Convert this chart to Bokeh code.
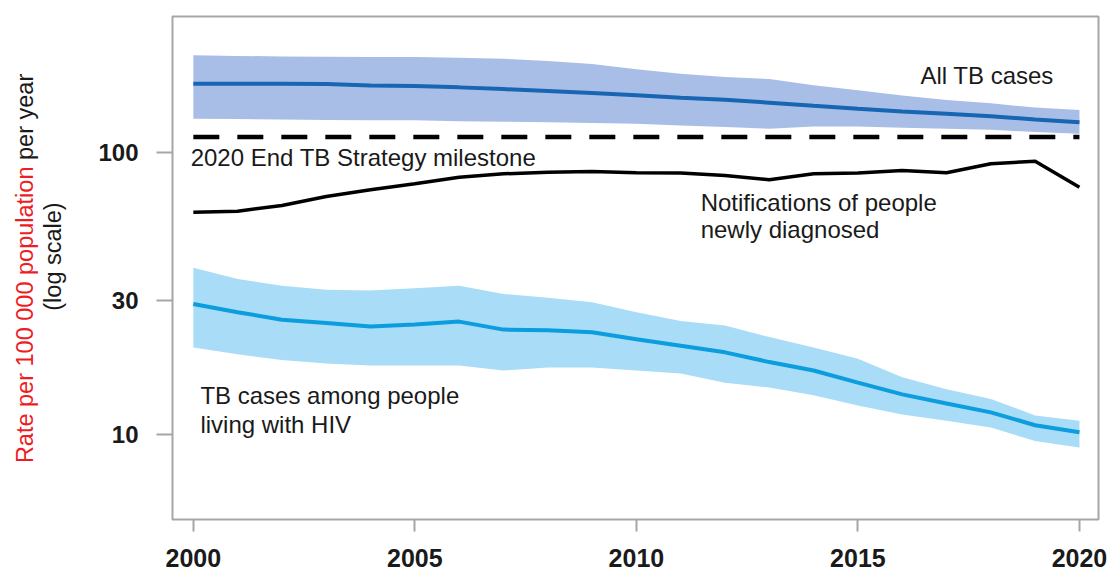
from math import pi

from bokeh.core.properties import value
from bokeh.embed import file_html
from bokeh.layouts import row
from bokeh.models import FixedTicker, Label
from bokeh.plotting import figure
from bokeh.resources import INLINE

# Global TB incidence and notification rates, per 100 000 population per year
years = list(range(2000, 2021))

all_tb = [176.1, 176.0, 176.0, 175.5, 173.7, 172.7, 170.9, 168.5, 165.8, 163.1, 160.1,
          157.1, 154.5, 150.8, 147.1, 143.6, 140.4, 137.8, 135.1, 131.5, 128.6]
all_tb_hi = [222.0, 221.0, 220.0, 219.5, 219.0, 218.9, 217.5, 216.0, 212.0, 207.0, 198.0,
             191.0, 186.0, 183.0, 174.0, 167.0, 160.0, 154.0, 150.0, 145.0, 142.0]
all_tb_lo = [132.3, 132.0, 131.5, 131.0, 130.5, 130.5, 129.5, 129.0, 128.6, 127.8, 127.0,
             125.2, 123.5, 121.9, 124.2, 124.2, 122.9, 121.9, 120.9, 118.6, 117.0]

notified = [61.6, 62.1, 65.1, 70.1, 74.0, 77.7, 82.0, 84.3, 85.4, 85.9, 85.0,
            84.8, 83.2, 80.3, 84.3, 84.8, 86.7, 85.0, 91.5, 93.5, 75.6]

hiv = [29.1, 27.2, 25.6, 24.9, 24.2, 24.6, 25.2, 23.6, 23.5, 23.1, 21.8,
       20.7, 19.6, 18.1, 16.9, 15.3, 13.9, 12.9, 12.0, 10.8, 10.2]
hiv_hi = [39.1, 35.7, 33.8, 32.7, 32.5, 33.1, 33.8, 31.6, 30.6, 29.5, 27.2,
          25.3, 24.4, 22.2, 20.4, 18.6, 16.0, 14.5, 13.4, 11.7, 11.2]
hiv_lo = [20.4, 19.3, 18.4, 17.9, 17.6, 17.6, 17.6, 16.9, 17.3, 17.3, 16.9,
          16.5, 15.3, 14.7, 13.8, 12.7, 11.8, 11.2, 10.6, 9.5, 9.0]

milestone_years = [2000, 2020]
milestone_rate = [114.0, 114.0]

x_ticks = [2000, 2005, 2010, 2015, 2020]
y_ticks = [10, 30, 100]
y_tick_labels = {10: "10", 30: "30", 100: "100"}

y_title_main = "Rate per 100 000 population"
y_title_tail = "\u00a0per year"
y_title_note = "(log scale)"

FONT = "Liberation Sans"
INK = "#1a1a1a"
FRAME = "#a6a6a6"
HEIGHT = 570

# ---- narrow panel carrying the rotated, two-colour y-axis title ----
title_w = 70
ttl = figure(width=title_w, height=HEIGHT, x_range=(0, title_w), y_range=(0, HEIGHT),
             x_axis_location=None, y_axis_location=None, min_border=0,
             output_backend="svg", toolbar_location=None)
ttl.outline_line_color = None
ttl.grid.visible = False
ttl.text(x=[24], y=[HEIGHT - 170], text=[y_title_main], angle=pi / 2,
         text_font=value(FONT), text_font_size="23.5px", text_color="#ee1c25",
         text_align="right", text_baseline="middle")
ttl.text(x=[24], y=[HEIGHT - 170], text=[y_title_tail], angle=pi / 2,
         text_font=value(FONT), text_font_size="23.5px", text_color=INK,
         text_align="left", text_baseline="middle")
ttl.text(x=[52], y=[HEIGHT - 272], text=[y_title_note], angle=pi / 2,
         text_font=value(FONT), text_font_size="23.5px", text_color=INK,
         text_align="center", text_baseline="middle")

# ---- main chart ----
p = figure(
    width=1110 - title_w, height=HEIGHT,
    min_border_left=172 - title_w, min_border_right=12, min_border_top=16,
    min_border_bottom=51,
    x_range=(1999.53, 2020.43), y_range=(5, 305), y_axis_type="log",
    output_backend="svg", toolbar_location=None,
    background_fill_color="white", border_fill_color="white",
)
p.outline_line_color = FRAME
p.outline_line_width = 2
p.grid.visible = False

# uncertainty bands
p.varea(x=years, y1=all_tb_lo, y2=all_tb_hi, fill_color="#a9bee6")
p.varea(x=years, y1=hiv_lo, y2=hiv_hi, fill_color="#a8dcf7")

# central estimates and notifications
p.line(years, all_tb, line_color="#1765b3", line_width=4)
p.line(years, hiv, line_color="#0b9ddd", line_width=4)
p.line(years, notified, line_color="black", line_width=3.5)
p.line(milestone_years, milestone_rate, line_color="black", line_width=4.5,
       line_dash="26 18")

# axes
p.xaxis.ticker = FixedTicker(ticks=x_ticks)
p.yaxis.ticker = FixedTicker(ticks=y_ticks)
p.yaxis.major_label_overrides = y_tick_labels
for ax in (p.xaxis[0], p.yaxis[0]):
    ax.axis_line_color = None
    ax.major_tick_line_color = FRAME
    ax.major_tick_line_width = 2
    ax.major_tick_in = 0
    ax.minor_tick_line_color = None
    ax.major_label_text_font = FONT
    ax.major_label_text_font_style = "bold"
    ax.major_label_text_color = INK
p.xaxis.major_tick_out = 12
p.xaxis.major_label_standoff = 17
p.xaxis.major_label_text_font_size = "25px"
p.yaxis.major_tick_out = 16
p.yaxis.major_label_standoff = 18
p.yaxis.major_label_text_align = "center"
p.yaxis.major_label_text_font_size = "24px"


def note(x, y, text):
    p.add_layout(Label(x=x, y=y, text=text, text_font=FONT, text_font_size="24px",
                       text_color=INK, text_align="left", text_baseline="middle"))


note(2016.41, 188.5, "All TB cases")
note(1999.94, 96.4, "2020 End TB Strategy milestone")
note(2011.45, 66.7, "Notifications of people")
note(2011.45, 53.5, "newly diagnosed")
note(2000.16, 13.78, "TB cases among people")
note(2000.16, 10.87, "living with HIV")

layout = row(ttl, p, spacing=0)
open("out.html", "w").write(file_html(layout, INLINE))
